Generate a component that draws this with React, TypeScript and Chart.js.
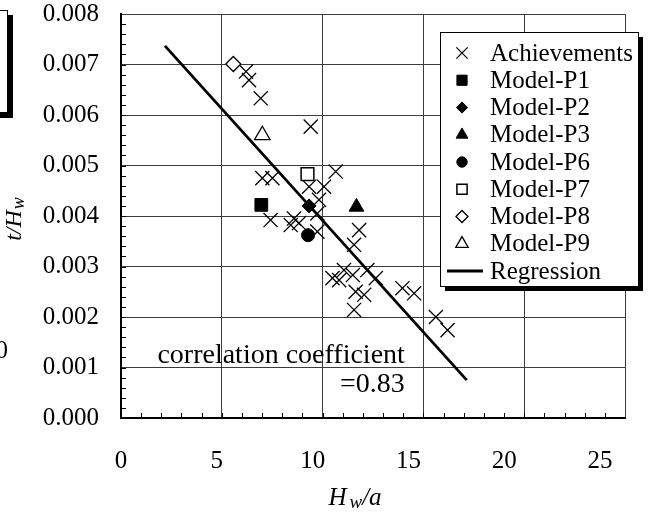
import React, { useEffect, useRef } from 'react';
import { Chart, registerables } from 'chart.js';
import { drawPoint } from 'chart.js/helpers';

Chart.register(...registerables);

// ---------- data ----------
const xTicks = [0, 5, 10, 15, 20, 25];
const yTicks = [0, 0.001, 0.002, 0.003, 0.004, 0.005, 0.006, 0.007, 0.008];
const xMinorStep = 1;
const yMinorStep = 0.0002;

const achievements: [number, number][] = [
  [6.2, 0.00686], [6.35, 0.00669], [6.93, 0.00633], [9.41, 0.00577],
  [7.01, 0.00475], [7.51, 0.00475], [10.65, 0.00488], [9.33, 0.00458],
  [10.07, 0.00458], [9.82, 0.00432], [7.42, 0.00392], [8.58, 0.00395],
  [8.42, 0.00382], [8.83, 0.00386], [9.74, 0.00405], [9.74, 0.00369],
  [11.81, 0.00372], [11.56, 0.00343], [10.49, 0.00277], [10.82, 0.00273],
  [11.06, 0.00293], [11.5, 0.00283], [12.22, 0.00293], [12.64, 0.00277],
  [11.64, 0.0025], [12.06, 0.00244], [11.56, 0.00214], [13.96, 0.00257],
  [14.54, 0.00247], [15.62, 0.002], [16.2, 0.00174],
];
const modelP1: [number, number][] = [[6.96, 0.00422]];
const modelP2: [number, number][] = [[9.33, 0.0042]];
const modelP3: [number, number][] = [[11.68, 0.00418]];
const modelP6: [number, number][] = [[9.28, 0.00362]];
const modelP7: [number, number][] = [[9.25, 0.00483]];
const modelP8: [number, number][] = [[5.57, 0.00701]];
const modelP9: [number, number][] = [[7.01, 0.0056]];
const regression: [number, number][] = [[2.18, 0.00737], [17.15, 0.00075]];

const correlationLines = ['correlation coefficient', '=0.83'];
// annotation anchor in data units (right edge, baselines)
const correlationAnchorX = 14.08;
const correlationBaselinesY = [0.00109, 0.000515];

const FONT = '"Liberation Serif", "Times New Roman", Times, serif';
const GRID = '#3c3c3c';

const toPts = (a: [number, number][]) => a.map(([x, y]) => ({ x, y }));

const decorPlugin = {
  id: 'decor',
  beforeDatasetsDraw(chart: any) {
    const { ctx, chartArea: ca, scales } = chart;
    const xs = scales.x;
    const ys = scales.y;
    ctx.save();
    ctx.strokeStyle = '#000';
    ctx.lineWidth = 1;
    const nY = Math.round((ys.max - ys.min) / yMinorStep);
    for (let i = 1; i < nY; i++) {
      const v = ys.min + i * yMinorStep;
      const p = Math.round(ys.getPixelForValue(v)) + 0.5;
      ctx.beginPath();
      ctx.moveTo(ca.left, p);
      ctx.lineTo(ca.left + 5, p);
      ctx.stroke();
    }
    const nX = Math.round((xs.max - xs.min) / xMinorStep);
    for (let i = 1; i < nX; i++) {
      const v = xs.min + i * xMinorStep;
      const p = Math.round(xs.getPixelForValue(v)) + 0.5;
      ctx.beginPath();
      ctx.moveTo(p, ca.bottom);
      ctx.lineTo(p, ca.bottom - 5);
      ctx.stroke();
    }
    ctx.restore();
  },
  afterDraw(chart: any) {
    const { ctx, chartArea: ca, scales } = chart;
    const xs = scales.x;
    const ys = scales.y;
    ctx.save();
    ctx.fillStyle = '#000';

    // correlation annotation
    ctx.font = `28px ${FONT}`;
    ctx.textAlign = 'right';
    ctx.textBaseline = 'alphabetic';
    correlationLines.forEach((t, i) => {
      ctx.fillText(t, xs.getPixelForValue(correlationAnchorX), ys.getPixelForValue(correlationBaselinesY[i]));
    });

    // x axis title: H_w/a
    {
      const big = `italic 25px ${FONT}`;
      const small = `italic 19px ${FONT}`;
      ctx.textAlign = 'left';
      ctx.font = big;
      const wH = ctx.measureText('H').width;
      const wA = ctx.measureText('/a').width;
      ctx.font = small;
      const wW = ctx.measureText('w').width;
      const gap = 3;
      const total = wH + gap + wW + wA;
      const cx = (ca.left + ca.right) / 2 - 18;
      let x = cx - total / 2;
      const by = 505;
      ctx.font = big;
      ctx.fillText('H', x, by);
      x += wH + gap;
      ctx.font = small;
      ctx.fillText('w', x, by + 3);
      x += wW;
      ctx.font = big;
      ctx.fillText('/a', x, by);
    }

    // y axis title: t/H_w (rotated)
    {
      const big = `italic 24px ${FONT}`;
      const small = `italic 18px ${FONT}`;
      ctx.save();
      ctx.translate(21, (ca.top + ca.bottom) / 2 + 3);
      ctx.rotate(-Math.PI / 2);
      ctx.textAlign = 'left';
      ctx.font = big;
      const w1 = ctx.measureText('t/H').width;
      ctx.font = small;
      const w2 = ctx.measureText('w').width;
      const total = w1 + w2 + 1;
      let x = -total / 2;
      ctx.font = big;
      ctx.fillText('t/H', x, 0);
      x += w1 + 1;
      ctx.font = small;
      ctx.fillText('w', x, 3);
      ctx.restore();
    }

    // legend
    {
      const bx = 440, by = 32, bw = 198, bh = 254, sh = 5;
      ctx.fillStyle = '#000';
      ctx.fillRect(bx + sh, by + sh, bw, bh);
      ctx.fillStyle = '#fff';
      ctx.fillRect(bx, by, bw, bh);
      ctx.strokeStyle = '#000';
      ctx.lineWidth = 1;
      ctx.strokeRect(bx + 0.5, by + 0.5, bw, bh);
      const rowH = 27.25;
      const y0 = 53;
      ctx.font = `25px ${FONT}`;
      ctx.textAlign = 'left';
      ctx.textBaseline = 'middle';
      chart.data.datasets.forEach((ds: any, i: number) => {
        const y = y0 + i * rowH;
        if (ds.showLine) {
          ctx.strokeStyle = '#000';
          ctx.lineWidth = ds.borderWidth;
          ctx.beginPath();
          ctx.moveTo(447, y);
          ctx.lineTo(483, y);
          ctx.stroke();
        } else {
          ctx.fillStyle = ds.backgroundColor;
          ctx.strokeStyle = ds.borderColor;
          ctx.lineWidth = ds.borderWidth;
          drawPoint(ctx, {
            pointStyle: ds.pointStyle,
            radius: ds.pointRadius * 0.8,
            rotation: 0,
            borderWidth: ds.borderWidth,
          } as any, 462, y);
        }
        ctx.fillStyle = '#000';
        ctx.fillText(ds.label, 490, y + 1);
      });
    }

    // remnants of neighbouring figure at left edge
    {
      ctx.fillStyle = '#000';
      ctx.fillRect(-5, 15, 18, 103);
      ctx.fillStyle = '#fff';
      ctx.fillRect(-10, 10, 18, 103);
      ctx.strokeStyle = '#000';
      ctx.lineWidth = 1;
      ctx.strokeRect(-10, 10.5, 17.5, 102);
      ctx.fillStyle = '#000';
      ctx.font = `25px ${FONT}`;
      ctx.textAlign = 'right';
      ctx.textBaseline = 'middle';
      ctx.fillText('0', 8, 351);
    }
    ctx.restore();
  },
};

export default function App() {
  const ref = useRef<HTMLCanvasElement | null>(null);
  useEffect(() => {
    if (!ref.current) return;
    const tickFont = { family: FONT, size: 25 };
    const chart = new Chart(ref.current, {
      type: 'scatter',
      data: {
        datasets: [
          { label: 'Achievements', data: toPts(achievements), pointStyle: 'crossRot', pointRadius: 10, borderColor: '#000', backgroundColor: '#000', borderWidth: 1.3, order: 5 },
          { label: 'Model-P1', data: toPts(modelP1), pointStyle: 'rect', pointRadius: 9, borderColor: '#000', backgroundColor: '#000', borderWidth: 1, order: 1 },
          { label: 'Model-P2', data: toPts(modelP2), pointStyle: 'rectRot', pointRadius: 7, borderColor: '#000', backgroundColor: '#000', borderWidth: 1, order: 1 },
          { label: 'Model-P3', data: toPts(modelP3), pointStyle: 'triangle', pointRadius: 8.5, borderColor: '#000', backgroundColor: '#000', borderWidth: 1, order: 1 },
          { label: 'Model-P6', data: toPts(modelP6), pointStyle: 'circle', pointRadius: 6.5, borderColor: '#000', backgroundColor: '#000', borderWidth: 1, order: 1 },
          { label: 'Model-P7', data: toPts(modelP7), pointStyle: 'rect', pointRadius: 9, borderColor: '#000', backgroundColor: '#fff', borderWidth: 1.5, order: 1 },
          { label: 'Model-P8', data: toPts(modelP8), pointStyle: 'rectRot', pointRadius: 7.5, borderColor: '#000', backgroundColor: '#fff', borderWidth: 1.3, order: 1 },
          { label: 'Model-P9', data: toPts(modelP9), pointStyle: 'triangle', pointRadius: 9, borderColor: '#000', backgroundColor: '#fff', borderWidth: 1.3, order: 1 },
          { label: 'Regression', data: toPts(regression), showLine: true, pointRadius: 0, borderColor: '#000', backgroundColor: '#000', borderWidth: 2.8, fill: false, order: 0 } as any,
        ],
      },
      options: {
        responsive: false,
        animation: false,
        devicePixelRatio: 1,
        events: [],
        layout: { padding: { top: 14, right: 23, left: 0, bottom: 0 } },
        plugins: { legend: { display: false }, tooltip: { enabled: false }, title: { display: false } },
        scales: {
          x: {
            type: 'linear', position: 'bottom', weight: 0, min: 0, max: 25,
            ticks: { display: false, stepSize: 5 },
            grid: { color: GRID, lineWidth: 1, drawTicks: false },
            border: { color: '#000', width: 2 },
            afterFit: (s: any) => { s.height = 0; s.paddingLeft = 0; s.paddingRight = 0; },
          },
          xl: {
            type: 'linear', axis: 'x', position: 'bottom', weight: 1, min: 0, max: 26.3,
            grid: { display: false, drawTicks: false },
            border: { display: false },
            ticks: { font: tickFont, color: '#000', padding: 28, autoSkip: false, maxRotation: 0, callback: (v: any) => String(v) },
            afterBuildTicks: (s: any) => { s.ticks = xTicks.map((v) => ({ value: v })); },
            afterFit: (s: any) => { s.height = 95; s.paddingLeft = 0; s.paddingRight = 0; },
          },
          y: {
            type: 'linear', min: 0, max: 0.008,
            ticks: { font: tickFont, color: '#000', padding: 22, stepSize: 0.001, callback: (v: any) => Number(v).toFixed(3) },
            afterBuildTicks: (s: any) => { s.ticks = yTicks.map((v) => ({ value: v })); },
            grid: { color: GRID, lineWidth: 1, drawTicks: false },
            border: { color: '#000', width: 2 },
            afterFit: (s: any) => { s.width = 121; s.paddingTop = 0; s.paddingBottom = 0; },
          },
        },
      } as any,
      plugins: [decorPlugin],
    });
    return () => chart.destroy();
  }, []);
  return (
    <canvas
      ref={ref}
      width={648}
      height={513}
      style={{ position: 'absolute', left: 0, top: 0, width: 648, height: 513 }}
    />
  );
}
